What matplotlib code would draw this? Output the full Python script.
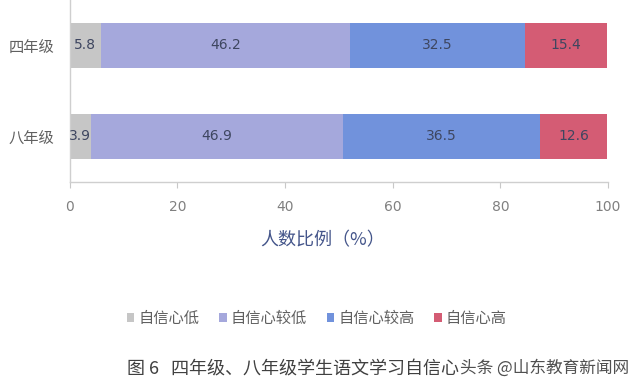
import numpy as np
import matplotlib.pyplot as plt
from matplotlib.patches import Patch

plt.rcParams['font.family'] = ['Noto Sans CJK SC', 'DejaVu Sans']

# --------------------------- data ---------------------------------------------
grades = ["八年级", "四年级"]
series = ["自信心低", "自信心较低", "自信心较高", "自信心高"]
low = [3.9, 5.8]
mid_low = [46.9, 46.2]
mid_high = [36.5, 32.5]
high = [12.6, 15.4]
x_ticks = [0, 20, 40, 60, 80, 100]

colors = ["#c6c6c6", "#a5a8dc", "#7192dc", "#d45c74"]
label_color = "#3e4660"
tick_color = "#808080"

fig = plt.figure(figsize=(6.4, 3.87), dpi=100)
ax = fig.add_axes([0.109, 0.530, 0.841, 0.470])

y = np.arange(len(grades))
left = np.zeros(len(grades))
for name, vals, c in zip(series, [low, mid_low, mid_high, high], colors):
    vals = np.array(vals)
    ax.barh(y, vals, left=left, height=0.5, color=c, edgecolor="none")
    for yi, l, v in zip(y, left, vals):
        ax.text(l + v / 2, yi, f"{v:.1f}", ha="center", va="center",
                fontsize=10, color=label_color, family="DejaVu Sans")
    left += vals

ax.set_xlim(0, 100)
ax.set_ylim(-0.5, 1.5)
ax.set_yticks(y)
ax.set_yticklabels(grades, fontsize=11, color="#606060")
ax.set_xticks(x_ticks)
ax.set_xticklabels([str(t) for t in x_ticks], fontsize=10, color=tick_color,
                   family="DejaVu Sans")
ax.tick_params(axis="y", length=0, pad=11)
ax.tick_params(axis="x", length=4, color="#c8c8c8", pad=9)
for side in ["top", "right"]:
    ax.spines[side].set_visible(False)
for side in ["left", "bottom"]:
    ax.spines[side].set_color("#cfcfcf")
    ax.spines[side].set_linewidth(1)

ax.set_xlabel("人数比例（%）", fontsize=13, color="#44558a", labelpad=14)
ax.xaxis.set_label_coords(0.47, -0.27)

handles = [Patch(facecolor=c, edgecolor="none") for c in colors]
fig.legend(handles, series, loc="center", bbox_to_anchor=(0.495, 0.178), ncol=4,
           frameon=False, fontsize=11, handlelength=0.5, handleheight=0.5,
           handletextpad=0.25, columnspacing=1.3, labelcolor="#606060")

fig.text(0.198, 0.049, "图 6   四年级、八年级学生语文学习自信心", fontsize=13,
         color="#404040", va="center")
fig.text(0.718, 0.049, "头条 @山东教育新闻网", fontsize=12, color="#505050", va="center")

fig.savefig("out.png", dpi=100)
